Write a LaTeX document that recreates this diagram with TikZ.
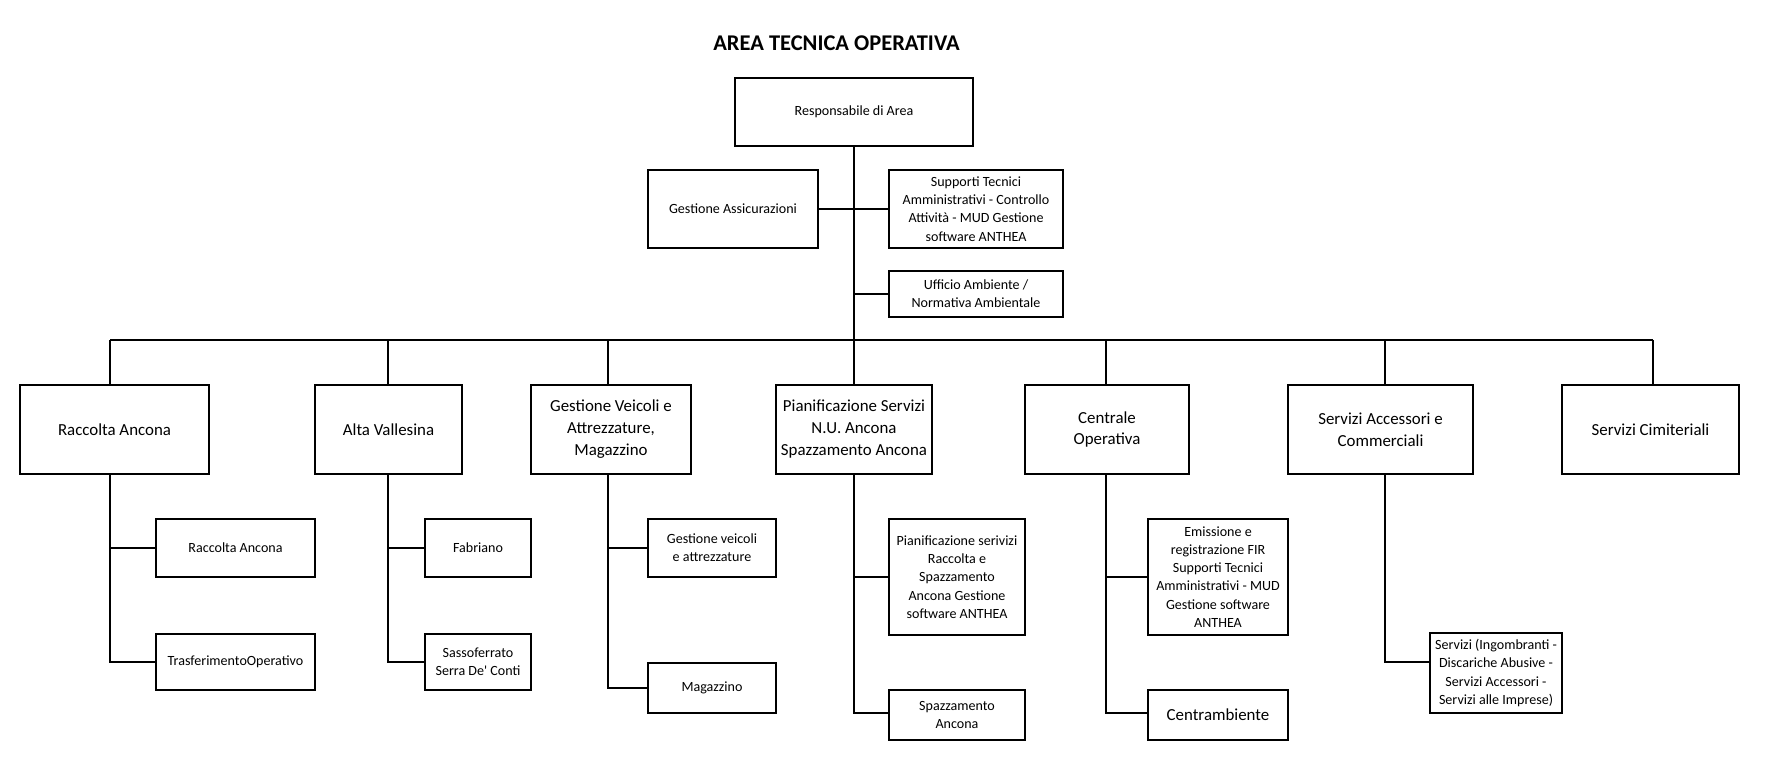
\documentclass[tikz,border=0pt]{standalone}
\usepackage{fontspec}
\setmainfont{Carlito}
\newcommand{\orgsmall}{\fontsize{8}{10.4}\selectfont}
\newcommand{\orgbig}{\fontsize{9.6}{12.5}\selectfont}
\tikzset{
  unit/.style={draw,line width=1.1pt,align=center,inner sep=0pt,font=\orgsmall},
  head/.style={unit,font=\orgbig},
  link/.style={line width=1.1pt},
}

\begin{document}
\begin{tikzpicture}[line join=miter]
  \path[use as bounding box,fill=white] (0,0) rectangle (35.6,15.54);
  \node[font=\bfseries\fontsize{12.8}{15}\selectfont] (title) at (16.73,14.68) {AREA TECNICA OPERATIVA};

  % Head of the area and its staff offices.
  \node[unit,minimum width=4.76cm,minimum height=1.36cm] (resp) at (17.08,13.30) {Responsabile di Area};
  \node[unit,minimum width=3.40cm,minimum height=1.56cm] (assic) at (14.66,11.36) {Gestione Assicurazioni};
  \node[unit,minimum width=3.48cm,minimum height=1.56cm] (supp) at (19.52,11.36)
    {Supporti Tecnici\\Amministrativi - Controllo\\Attività - MUD Gestione\\software ANTHEA};
  \node[unit,minimum width=3.48cm,minimum height=0.92cm] (uffic) at (19.52,9.66)
    {Ufficio Ambiente /\\Normativa Ambientale};

  % Operating units.
  \node[head,minimum width=3.78cm,minimum height=1.78cm] (racc) at (2.29,6.95) {Raccolta Ancona};
  \node[head,minimum width=2.94cm,minimum height=1.78cm] (alta) at (7.77,6.95) {Alta Vallesina};
  \node[head,minimum width=3.20cm,minimum height=1.78cm] (gvei) at (12.22,6.95)
    {Gestione Veicoli e\\Attrezzature,\\Magazzino};
  \node[head,minimum width=3.12cm,minimum height=1.78cm] (pian) at (17.08,6.95)
    {Pianificazione Servizi\\N.U. Ancona\\Spazzamento Ancona};
  \node[head,minimum width=3.28cm,minimum height=1.78cm] (cent) at (22.14,6.95) {Centrale\\Operativa};
  \node[head,minimum width=3.70cm,minimum height=1.78cm] (serv) at (27.61,6.95)
    {Servizi Accessori e\\Commerciali};
  \node[head,minimum width=3.54cm,minimum height=1.78cm] (cimi) at (33.01,6.95) {Servizi Cimiteriali};

  % Offices below each unit.
  \node[unit,minimum width=3.18cm,minimum height=1.16cm] (racc1) at (4.71,4.58) {Raccolta Ancona};
  \node[unit,minimum width=3.18cm,minimum height=1.12cm] (racc2) at (4.71,2.30) {TrasferimentoOperativo};
  \node[unit,minimum width=2.12cm,minimum height=1.16cm] (alta1) at (9.56,4.58) {Fabriano};
  \node[unit,minimum width=2.12cm,minimum height=1.12cm] (alta2) at (9.56,2.30)
    {Sassoferrato\\Serra De\textquotesingle\ Conti};
  \node[unit,minimum width=2.56cm,minimum height=1.16cm] (gvei1) at (14.24,4.58)
    {Gestione veicoli\\e attrezzature};
  \node[unit,minimum width=2.56cm,minimum height=1.00cm] (gvei2) at (14.24,1.78) {Magazzino};
  \node[unit,minimum width=2.72cm,minimum height=2.32cm] (pian1) at (19.14,4.00)
    {Pianificazione serivizi\\Raccolta e\\Spazzamento\\Ancona Gestione\\software ANTHEA};
  \node[unit,minimum width=2.72cm,minimum height=1.00cm] (pian2) at (19.14,1.24) {Spazzamento\\Ancona};
  \node[unit,minimum width=2.80cm,minimum height=2.32cm] (cent1) at (24.36,4.00)
    {Emissione e\\registrazione FIR\\Supporti Tecnici\\Amministrativi - MUD\\Gestione software\\ANTHEA};
  \node[head,minimum width=2.80cm,minimum height=1.00cm] (cent2) at (24.36,1.24) {Centrambiente};
  \node[unit,minimum width=2.64cm,minimum height=1.60cm] (serv1) at (29.92,2.08)
    {Servizi (Ingombranti -\\Discariche Abusive -\\Servizi Accessori -\\Servizi alle Imprese)};

  % Connectors.
  \draw[link] (resp) -- (pian);
  \draw[link] (assic) -- (supp);
  \draw[link] (uffic.west) -- (uffic.west -| resp.south);
  \coordinate (racc-c) at (2.20,8.74);
  \coordinate (alta-c) at (7.76,8.74);
  \coordinate (gvei-c) at (12.16,8.74);
  \coordinate (cent-c) at (22.12,8.74);
  \coordinate (serv-c) at (27.70,8.74);
  \coordinate (cimi-c) at (33.06,8.74);
  \draw[link] (racc-c) -- (cimi-c);
  \foreach \u in {racc,alta,gvei,cent,serv,cimi}
    \draw[link] (\u-c) -- (\u-c |- \u.north);
  \draw[link] (racc-c |- racc.south) |- (racc1.west);
  \draw[link] (racc-c |- racc.south) |- (racc2.west);
  \draw[link] (alta-c |- alta.south) |- (alta1.west);
  \draw[link] (alta-c |- alta.south) |- (alta2.west);
  \draw[link] (gvei-c |- gvei.south) |- (gvei1.west);
  \draw[link] (gvei-c |- gvei.south) |- (gvei2.west);
  \draw[link] (pian.south) |- (pian1.west);
  \draw[link] (pian.south) |- ([yshift=0.04cm]pian2.west);
  \draw[link] (cent-c |- cent.south) |- (cent1.west);
  \draw[link] (cent-c |- cent.south) |- ([yshift=0.04cm]cent2.west);
  \draw[link] (serv-c |- serv.south) |- ([yshift=0.22cm]serv1.west);
\end{tikzpicture}
\end{document}
